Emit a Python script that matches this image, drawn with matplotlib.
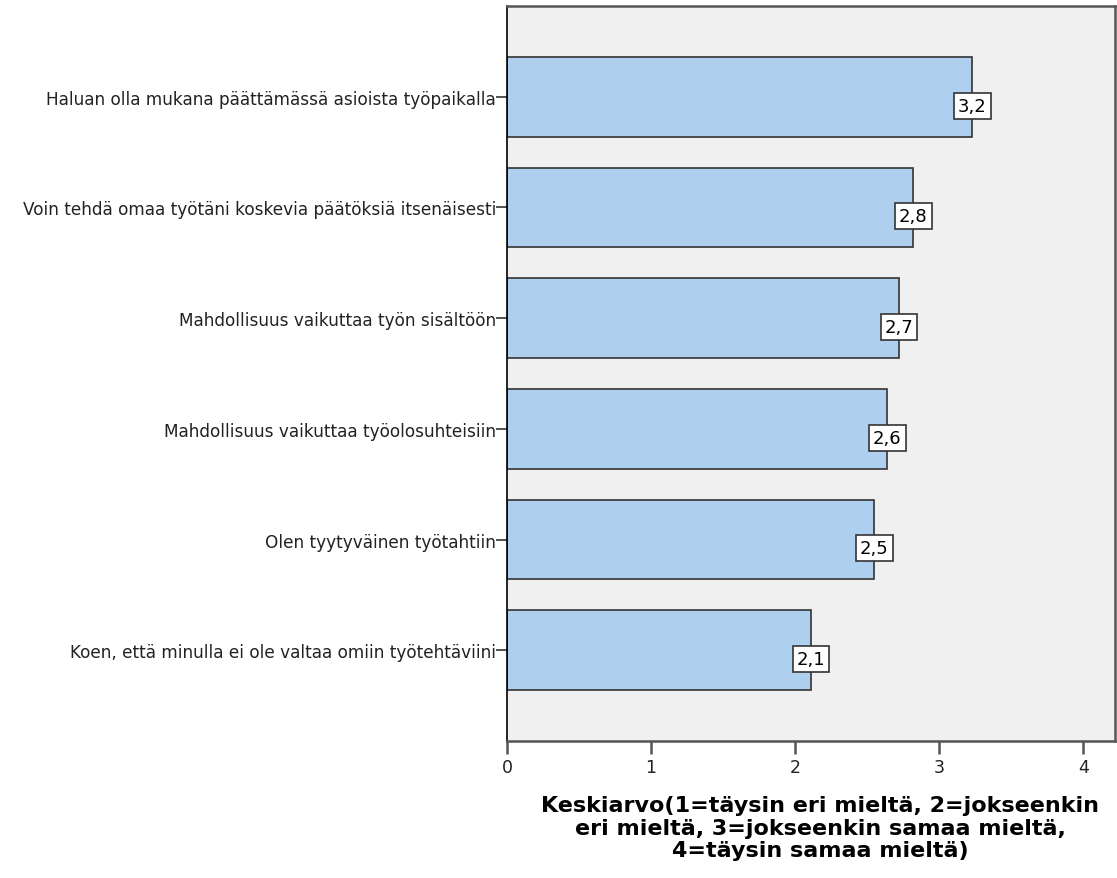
import matplotlib.pyplot as plt

# Data
items = ["Haluan olla mukana päättämässä asioista työpaikalla",
         "Voin tehdä omaa työtäni koskevia päätöksiä itsenäisesti",
         "Mahdollisuus vaikuttaa työn sisältöön",
         "Mahdollisuus vaikuttaa työolosuhteisiin",
         "Olen tyytyväinen työtahtiin",
         "Koen, että minulla ei ole valtaa omiin työtehtäviini"]
means = [3.23, 2.82, 2.72, 2.64, 2.549, 2.11]
xticks = [0, 1, 2, 3, 4]

plt.rcParams['font.family'] = ['DejaVu Sans']

fig = plt.figure(figsize=(11.17, 8.79), dpi=100)
ax = fig.add_axes([0.4539, 0.1559, 0.5443, 0.8361])
ax.set_facecolor('#f0f0f0')

pos = list(range(len(items)))
ax.barh(pos, means, height=0.72, color='#aecfee', edgecolor='#333333', linewidth=1.2, zorder=2)

# value labels in white boxes at bar ends
for y, v in zip(pos, means):
    ax.text(v, y + 0.08, ('%.1f' % v).replace('.', ','), ha='center', va='center',
            fontsize=13, color='black', zorder=3,
            bbox=dict(boxstyle='square,pad=0.22', facecolor='white', edgecolor='#333333', linewidth=1.2))

ax.set_ylim(5.82, -0.82)
ax.set_xlim(0, 4.22)
ax.set_yticks(pos)
ax.set_yticklabels(items, fontsize=12.2, color='#222222')
ax.set_xticks(xticks)
ax.set_xticklabels([str(t) for t in xticks], fontsize=12.5, color='#222222')
ax.tick_params(axis='y', length=8, width=1.2, color='#333333', pad=0)
ax.tick_params(axis='x', length=9.5, width=1.8, color='#555555', pad=3)

for side in ['top', 'right', 'bottom']:
    ax.spines[side].set_color('#555555')
    ax.spines[side].set_linewidth(1.8)
ax.spines['left'].set_color('black')
ax.spines['left'].set_linewidth(1.2)

ax.set_xlabel('Keskiarvo(1=täysin eri mieltä, 2=jokseenkin\neri mieltä, 3=jokseenkin samaa mieltä,\n4=täysin samaa mieltä)',
              fontsize=16, fontweight='bold', linespacing=1.15)
ax.xaxis.set_label_coords(0.515, -0.074, transform=ax.transAxes)
ax.xaxis.label.set_va('top')

fig.savefig('out.png', dpi=100)
